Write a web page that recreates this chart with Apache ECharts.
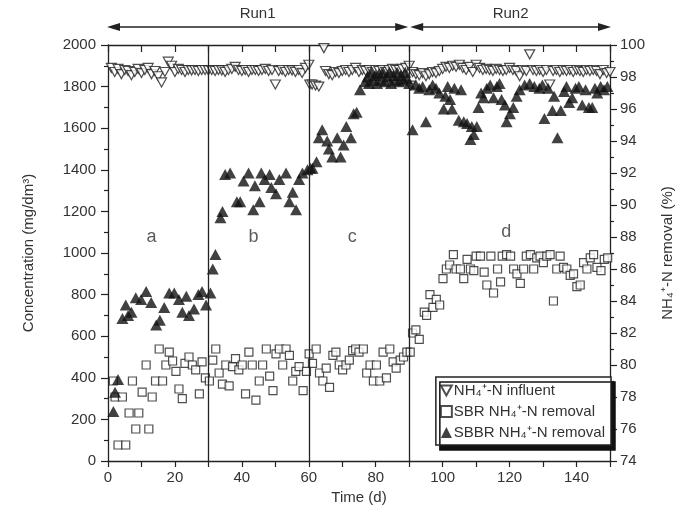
<!DOCTYPE html>
<html>
<head>
<meta charset="utf-8">
<script src="https://cdn.jsdelivr.net/npm/echarts@6/dist/echarts.min.js"></script>
<style>html,body{margin:0;padding:0;background:#fff}#c{width:683px;height:521px}</style>
</head>
<body>
<div id="c"></div>
<script>
// NH4+-N influent concentration (mg/dm3): [day, value]
const influent = [
[1,1890],[2,1870],[3,1885],[4,1860],[5,1880],[6,1875],[7,1855],[8,1870],[9,1885],[10,1865],
[11,1880],[12,1890],[13,1860],[14,1875],[15,1850],[16,1820],[17,1870],[18,1920],[19,1900],[20,1870],
[21,1885],[22,1880],[23,1870],[24,1880],[25,1878],[26,1880],[27,1875],[28,1880],[29,1880],[30,1878],
[31,1880],[32,1875],[33,1880],[34,1878],[35,1870],[36,1880],[37,1885],[38,1895],[39,1880],[40,1875],
[41,1880],[42,1870],[43,1880],[44,1880],[45,1875],[46,1880],[47,1885],[48,1875],[49,1880],[50,1810],
[51,1875],[52,1880],[53,1870],[54,1880],[55,1878],[56,1870],[57,1880],[58,1865],[59,1890],[60,1905],[60.3,1810],
[61,1810],[62,1805],[63,1800],[64.5,1985],[65,1875],[66,1860],[67,1855],[68,1870],[69,1865],[70,1875],
[71,1880],[72,1870],[73,1880],[74,1890],[75,1870],[76,1880],[77,1875],[78,1880],[79,1870],[80,1880],
[81,1875],[82,1880],[83,1870],[84,1880],[85,1885],[86,1880],[87,1880],[88,1885],[89,1890],[90,1900],[90.3,1805],
[91,1870],[92,1860],[93,1855],[94,1865],[95,1850],[96,1860],[97,1870],[98,1865],[99,1875],[100,1885],
[101,1895],[102,1890],[103,1900],[104,1895],[105,1905],[106,1890],[107,1880],[108,1895],[109,1870],[110,1905],
[111,1890],[112,1880],[113,1885],[114,1880],[115,1875],[116,1885],[117,1880],[118,1875],[119,1880],[120,1890],
[121,1880],[122,1875],[123,1850],[124,1880],[125,1875],[126,1955],[127,1880],[128,1875],[129,1880],[130,1870],
[131,1880],[132,1810],[133,1875],[134,1880],[135,1870],[136,1880],[137,1875],[138,1880],[139,1870],[140,1880],
[141,1875],[142,1870],[143,1880],[144,1875],[145,1880],[146,1875],[147,1860],[148,1880],[149,1865],[150,1870]
];

// SBR NH4+-N removal (%): [day, value]
const sbrRemoval = [
[1.6,79.0],[2.1,78.0],[3.0,75.0],[4.3,78.0],[5.3,75.0],[6.3,77.0],[7.3,79.0],[8.3,76.0],[9.2,77.0],[10.2,78.3],
[11.4,80.0],[12.2,76.0],[13.2,78.0],[14.2,79.0],[15.3,81.0],[16.3,79.0],[17.3,80.0],[18.3,80.8],[19.3,80.25],[20.3,79.6],
[21.2,78.5],[22.2,77.9],[23.0,80.1],[24.2,80.5],[25.2,80.0],[26.2,79.7],[27.3,78.2],[28.1,80.2],[29.1,79.2],[30.3,79.0],
[31.3,80.3],[32.2,81.0],[33.2,79.5],[34.2,78.8],[35.2,80.0],[36.2,78.7],[37.2,79.9],[38.1,80.4],[39.1,79.7],[40.1,80.0],
[41.1,78.2],[42.1,80.8],[43.1,80.0],[44.2,77.8],[45.2,79.0],[46.2,80.0],[47.3,81.0],[48.3,79.3],[49.3,78.4],[50.2,80.7],
[51.2,81.0],[52.2,80.0],[53.2,81.0],[54.2,80.6],[55.2,79.0],[56.1,79.6],[57.1,79.9],[58.3,78.4],[59.3,79.6],[60.1,80.7],
[61.1,80.1],[62.2,81.0],[63.2,79.5],[64.2,79.0],[65.2,79.8],[66.2,78.6],[67.2,80.6],[68.1,80.8],[69.1,80.0],[70.1,79.7],
[71.1,80.0],[72.1,80.3],[73.1,80.9],[74.0,81.0],[75.0,80.8],[76.3,81.0],[77.3,79.5],[78.3,80.0],[79.3,79.0],[80.2,80.0],
[81.2,79.0],[82.2,80.8],[83.2,79.2],[84.2,81.0],[85.2,80.2],[86.1,79.8],[87.3,80.3],[88.3,80.5],[89.3,80.8],[90.3,80.8],
[91.0,82.0],[92.0,82.2],[93.0,81.6],[94.5,83.3],[95.2,83.1],[96.2,84.4],[97.1,83.6],[98.1,84.1],[99.1,83.75],[100.1,85.4],
[101.1,86.0],[102.1,86.25],[103.2,86.9],[104.0,86.0],[105.3,86.0],[106.3,85.4],[107.3,86.6],[108.3,86.0],[109.3,85.9],[110.0,86.8],
[111.3,86.8],[112.4,85.8],[113.2,85.0],[114.4,86.8],[115.2,84.5],[116.4,86.0],[117.3,85.2],[117.8,86.8],[119.1,86.9],[120.3,86.8],
[121.2,86.0],[122.2,85.7],[123.2,85.1],[124.2,86.0],[125.0,86.8],[126.2,86.9],[127.2,86.0],[128.1,86.7],[129.1,86.8],[130.1,86.4],
[131.1,86.8],[132.1,86.9],[133.1,84.0],[134.1,86.0],[135.1,86.8],[136.1,86.1],[137.1,86.0],[138.1,85.6],[139.1,85.7],[140.1,84.9],
[141.1,85.0],[142.1,86.4],[143.1,86.0],[144.1,86.7],[145.1,86.9],[146.1,86.1],[147.3,85.9],[148.3,86.6],[149.3,86.7]
];

// SBBR NH4+-N removal (%): [day, value]
const sbbrRemoval = [
[1.6,77.1],[2.1,78.3],[3.0,79.1],[4.3,82.9],[5.3,83.75],[6.0,83.1],[7.0,83.3],[8.3,84.2],[9.9,84.1],[11.4,84.6],
[12.9,83.9],[14.4,82.5],[15.5,82.8],[16.8,83.6],[18.3,84.5],[19.8,84.5],[21.2,84.1],[22.2,83.3],[23.4,84.3],[24.2,83.1],
[25.7,83.5],[27.0,84.4],[28.1,84.6],[29.3,83.75],[30.6,84.5],
[31.3,86.0],[32.1,86.9],[33.6,89.2],[34.2,89.6],[35.0,91.9],[36.5,92.0],[38.5,90.2],[39.5,90.2],[40.5,91.5],[42.0,92.0],
[43.4,89.7],[43.9,91.2],[45.3,90.2],[45.8,92.0],[46.8,91.6],[48.3,91.9],[48.8,91.1],[50.2,90.7],[51.2,91.6],[53.2,92.0],
[54.2,90.2],[55.2,90.8],[56.2,89.7],[57.1,91.6],[58.1,92.0],[59.6,92.2],
[60.5,92.3],[61.1,92.3],[62.3,92.7],[63.0,94.2],[64.0,94.7],[65.5,94.0],[66.0,93.5],[67.0,93.0],[68.5,94.2],[69.5,93.0],
[70.4,93.75],[71.2,94.9],[72.6,94.2],[73.4,95.7],[74.3,95.8],[75.3,97.2],[76.8,97.7],
[77.5,98.0],[78.0,97.6],[78.6,98.3],[79.2,97.8],[79.8,98.1],[80.4,97.6],[81.0,98.2],[81.6,97.8],[82.2,98.3],[82.8,97.7],
[83.4,98.0],[84.0,98.3],[84.6,97.6],[85.2,98.1],[85.8,97.8],[86.4,98.3],[87.0,97.7],[87.6,98.1],[88.2,97.8],[88.8,98.3],
[89.4,97.9],[90.0,97.6],
[91.0,94.7],[92.0,97.5],[93.0,97.3],[94.0,97.4],[95.0,95.2],[96.0,97.2],[97.0,97.5],[98.0,97.3],[99.0,97.0],[100.3,96.0],
[100.8,96.8],[101.5,97.4],[102.2,96.6],[102.8,96.0],[103.5,97.3],[104.8,95.3],[105.5,97.2],[106.3,95.2],[107.3,95.1],[108.3,94.1],
[108.7,94.9],[109.3,94.4],[110.2,94.9],[110.7,96.1],[111.5,97.0],[112.2,96.7],[113.2,97.3],[114.2,97.5],[115.2,96.7],[116.2,97.4],
[117.0,97.6],[117.6,96.6],[118.6,96.25],[119.1,95.2],[120.1,95.7],[121.1,96.1],[122.1,96.8],[123.0,97.2],[124.5,97.5],[126.0,97.6],
[127.4,97.4],[128.9,97.3],[129.8,97.5],[130.4,95.4],[131.5,97.3],[132.8,95.9],[133.3,96.8],[134.3,94.2],[135.3,95.9],[136.3,97.1],
[137.0,97.4],[137.8,96.4],[138.7,96.7],[139.7,97.3],[140.7,97.4],[141.7,96.25],[142.7,97.2],[143.7,96.1],[144.7,96.1],[145.5,97.3],
[146.2,97.0],[147.2,97.4],[148.2,97.2],[149.2,97.4]
];

// phase boundaries (days) and phase labels
const phaseBounds = [30, 60, 90];
const phaseLabels = [[13,1077,'a'],[43.5,1077,'b'],[73,1077,'c'],[119,1100,'d']];
const runLabels = ['Run1','Run2'];
const runBounds = [0, 90, 150];

const FONT = '"Liberation Sans", Arial, Helvetica, sans-serif';
const INK = '#222';
const TXT = '#333';

const chart = echarts.init(document.getElementById('c'), null, {renderer:'canvas'});

const axisCommon = {
  axisLine:{show:true, onZero:false, lineStyle:{color:INK, width:1.3}},
  splitLine:{show:false},
  axisLabel:{fontSize:15, color:TXT, fontFamily:FONT, formatter:v => String(v)},
  nameTextStyle:{fontSize:15, color:TXT, fontFamily:FONT}
};

chart.setOption({
  animation:false,
  backgroundColor:'#fff',
  textStyle:{fontFamily:FONT},
  grid:{left:108, right:68, top:45, bottom:60},
  legend:{
    orient:'vertical', right:72, bottom:76,
    backgroundColor:'#fff', borderColor:INK, borderWidth:1.5,
    shadowColor:'#111', shadowBlur:0, shadowOffsetX:4, shadowOffsetY:5,
    padding:[6,6,5,4], itemGap:6, itemWidth:11, itemHeight:11,
    textStyle:{fontSize:15, color:TXT, fontFamily:FONT, padding:[0,0,0,-3]},
    data:['NH₄⁺-N influent','SBR NH₄⁺-N removal','SBBR NH₄⁺-N removal']
  },
  xAxis:[
    Object.assign({}, axisCommon, {
      type:'value', min:0, max:150, interval:20, position:'bottom',
      axisTick:{show:true, length:6, lineStyle:{color:INK, width:1.2}},
      minorTick:{show:true, splitNumber:2, length:6, lineStyle:{color:INK, width:1.2}},
      axisLabel:Object.assign({}, axisCommon.axisLabel, {margin:9, showMaxLabel:false}),
      name:'Time (d)', nameLocation:'middle', nameGap:28
    }),
    Object.assign({}, axisCommon, {
      type:'value', min:0, max:150, interval:10, position:'top',
      axisTick:{show:true, inside:true, length:7, lineStyle:{color:INK, width:1.2}},
      axisLabel:{show:false}
    })
  ],
  yAxis:[
    Object.assign({}, axisCommon, {
      type:'value', min:0, max:2000, interval:200, position:'left',
      axisTick:{show:true, length:7, lineStyle:{color:INK, width:1.2}},
      minorTick:{show:true, splitNumber:2, length:4, lineStyle:{color:INK, width:1.2}},
      axisLabel:Object.assign({}, axisCommon.axisLabel, {margin:12}),
      name:'Concentration (mg/dm³)', nameLocation:'middle', nameGap:72, nameRotate:90
    }),
    Object.assign({}, axisCommon, {
      type:'value', min:74, max:100, interval:2, position:'right',
      axisTick:{show:true, length:7, lineStyle:{color:INK, width:1.2}},
      minorTick:{show:true, splitNumber:2, length:4, lineStyle:{color:INK, width:1.2}},
      axisLabel:Object.assign({}, axisCommon.axisLabel, {margin:10}),
      name:'NH₄⁺-N removal (%)', nameLocation:'middle', nameGap:50, nameRotate:90
    })
  ],
  series:[
    {
      name:'NH₄⁺-N influent', type:'scatter', xAxisIndex:0, yAxisIndex:0,
      symbol:'path://M0,0 L10,0 L5,9 Z', symbolSize:[10,9],
      itemStyle:{color:'#fff', borderColor:INK, borderWidth:1.2},
      data:influent,
      markLine:{
        silent:true, symbol:'none', label:{show:false},
        lineStyle:{color:INK, type:'solid', width:1.3},
        data:phaseBounds.map(d => ({xAxis:d}))
      }
    },
    {
      name:'SBR NH₄⁺-N removal', type:'scatter', xAxisIndex:0, yAxisIndex:1,
      symbol:'rect', symbolSize:8,
      itemStyle:{color:'#fff', borderColor:INK, borderWidth:1.2},
      data:sbrRemoval
    },
    {
      name:'SBBR NH₄⁺-N removal', type:'scatter', xAxisIndex:0, yAxisIndex:1,
      symbol:'triangle', symbolSize:[12,11],
      itemStyle:{color:'#111'},
      data:sbbrRemoval
    },
    {
      name:'phase', type:'scatter', xAxisIndex:0, yAxisIndex:0, silent:true,
      symbolSize:0,
      label:{show:true, position:'inside', formatter:p => p.value[2], fontSize:18, color:TXT, fontFamily:FONT},
      data:phaseLabels
    }
  ]
});

// Run1 / Run2 double arrows above the plot
const px = runBounds.map(d => chart.convertToPixel({xAxisIndex:0}, d));
const ay = 27, ty = 14;
const els = [];
for (let i = 0; i < runLabels.length; i++) {
  const a = px[i] + (i === 0 ? -1 : 1), b = px[i+1] - (i === 0 ? 1 : -1);
  els.push({type:'line', shape:{x1:a+6, y1:ay, x2:b-6, y2:ay}, style:{stroke:INK, lineWidth:1.5}});
  els.push({type:'polygon', shape:{points:[[a,ay],[a+13,ay-4],[a+13,ay+4]]}, style:{fill:INK}});
  els.push({type:'polygon', shape:{points:[[b,ay],[b-13,ay-4],[b-13,ay+4]]}, style:{fill:INK}});
  els.push({type:'text', x:(a+b)/2, y:ty, style:{text:runLabels[i], fill:TXT, font:'15px ' + FONT, textAlign:'center', textVerticalAlign:'middle'}});
}
chart.setOption({graphic:els});
</script>
</body>
</html>
